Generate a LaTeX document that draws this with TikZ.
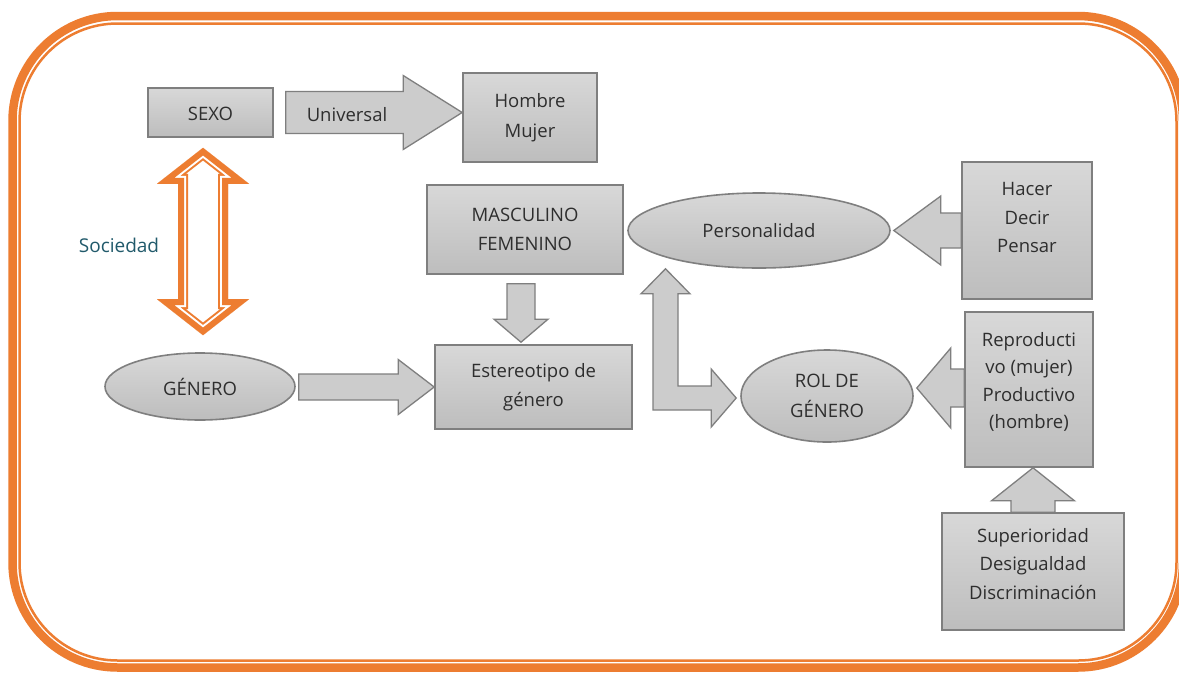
\documentclass[tikz,border=0pt]{standalone}
\usepackage{fontspec}
\setmainfont{Open Sans}
\usetikzlibrary{calc,shapes.geometric}
\definecolor{orng}{HTML}{ED7D31}
\definecolor{boxline}{HTML}{7F7F7F}
\definecolor{txt}{HTML}{2E2E2E}
\definecolor{boxtop}{HTML}{D8D8D8}
\definecolor{boxbot}{HTML}{BDBDBD}
\definecolor{arrfill}{HTML}{CCCCCC}
\definecolor{socteal}{HTML}{215A6B}
\newcommand\rarr[5]{\filldraw[blockarr] let \p1=#1, \p2=#2 in (\x1,\y2+#3pt) -- (\x2-#5pt,\y2+#3pt) -- (\x2-#5pt,\y2+#4pt) -- (\x2,\y2) -- (\x2-#5pt,\y2-#4pt) -- (\x2-#5pt,\y2-#3pt) -- (\x1,\y2-#3pt) -- cycle;}
\newcommand\larr[5]{\filldraw[blockarr] let \p1=#1, \p2=#2 in (\x1,\y2+#3pt) -- (\x2+#5pt,\y2+#3pt) -- (\x2+#5pt,\y2+#4pt) -- (\x2,\y2) -- (\x2+#5pt,\y2-#4pt) -- (\x2+#5pt,\y2-#3pt) -- (\x1,\y2-#3pt) -- cycle;}
\newcommand\uarr[5]{\filldraw[blockarr] let \p1=#1, \p2=#2 in (\x2+#3pt,\y1) -- (\x2+#3pt,\y2-#5pt) -- (\x2+#4pt,\y2-#5pt) -- (\x2,\y2) -- (\x2-#4pt,\y2-#5pt) -- (\x2-#3pt,\y2-#5pt) -- (\x2-#3pt,\y1) -- cycle;}
\newcommand\darr[5]{\filldraw[blockarr] let \p1=#1, \p2=#2 in (\x2+#3pt,\y1) -- (\x2+#3pt,\y2+#5pt) -- (\x2+#4pt,\y2+#5pt) -- (\x2,\y2) -- (\x2-#4pt,\y2+#5pt) -- (\x2-#3pt,\y2+#5pt) -- (\x2-#3pt,\y1) -- cycle;}
\tikzset{
  txtstyle/.style={font=\fontsize{18.5}{29.5}\selectfont, text=txt, align=center},
  gbox/.style={txtstyle, draw=boxline, line width=1.6pt, top color=boxtop, bottom color=boxbot, rectangle, inner sep=0pt},
  gell/.style={gbox, ellipse},
  blockarr/.style={draw=boxline, line width=1.3pt, fill=arrfill, line join=miter},
}
\begin{document}
\begin{tikzpicture}[x=1pt,y=-1pt]
\useasboundingbox (0,0) rectangle (1179,673);
\fill[white] (0,0) rectangle (1179,673);
% frame
\draw[orng, line width=8.5pt, rounded corners=105pt] (12.5,16) rectangle (1183,667.5);
\draw[orng, line width=2.5pt, rounded corners=98pt] (19.5,23.5) rectangle (1176.5,660.5);

% nodes
\node[gbox, minimum width=125pt, minimum height=49pt, text height=16pt] (sexo) at (210.5,112.5) {SEXO};
\node[gbox, minimum width=134pt, minimum height=89pt] (hm) at (530,117.5) {Hombre\\Mujer};
\node[gbox, minimum width=196pt, minimum height=89pt] (masc) at (525,229.5) {MASCULINO\\FEMENINO};
\node[gbox, minimum width=197pt, minimum height=84pt] (ester) at (533.5,387) {Estereotipo de\\género};
\node[gell, minimum width=190pt, minimum height=67pt] (genero) at (200,386.5) {GÉNERO};
\node[gell, minimum width=262pt, minimum height=75pt] (pers) at (759,230.5) {Personalidad};
\node[gbox, minimum width=130pt, minimum height=137pt, text depth=26pt, font=\fontsize{18.5}{28.5}\selectfont] (hacer) at (1027,230.5) {Hacer\\Decir\\Pensar};
\node[gell, minimum width=172pt, minimum height=92pt] (rol) at (827,396) {ROL DE\\GÉNERO};
\node[gbox, minimum width=128pt, minimum height=155pt, text depth=18pt, font=\fontsize{18.5}{27.5}\selectfont] (repro) at (1029,389.5) {Reproducti\\vo (mujer)\\Productivo\\(hombre)};
\node[gbox, minimum width=182pt, minimum height=117pt, text depth=16pt, font=\fontsize{18.5}{28.5}\selectfont] (sup) at (1033,571.5) {Superioridad\\Desigualdad\\Discriminación};

% block arrows
\rarr{($(sexo.east)+(12,0)$)}{(hm.west |- sexo.east)}{21}{37}{59}
\node[txtstyle] (univ) at (347,115) {Universal};
\rarr{($(genero.east)+(3,0)$)}{(ester.west)}{13}{27.5}{36}
\darr{($(masc.south)+(-4,9)$)}{($(ester.north)+(-12.5,-2)$)}{14}{27}{23}
\larr{(hacer.west)}{($(pers.east)+(3,0)$)}{17.5}{34.5}{47}
\larr{(repro.west)}{($(rol.east)+(3,-8)$)}{19}{40}{34}
\uarr{(sup.north)}{(sup.north |- repro.south)}{22}{41.5}{33}

% bent double arrow
\coordinate (bt) at ($(pers.south)+(-93.5,0)$);
\coordinate (br) at ($(rol.west)+(-4,2)$);
\filldraw[blockarr] let \p1=(bt), \p2=(br) in
  (\x1-12.5pt,\y2-12pt) -- (\x1-12.5pt,\y1-25pt) -- (\x1-24.5pt,\y1-25pt) -- (\x1,\y1)
  -- (\x1+24.5pt,\y1-25pt) -- (\x1+12.5pt,\y1-25pt) -- (\x1+12.5pt,\y2+12pt)
  -- (\x2-25pt,\y2+12pt) -- (\x2-25pt,\y2+29pt) -- (\x2,\y2) -- (\x2-25pt,\y2-29pt)
  -- (\x2-25pt,\y2-12pt) -- cycle;

% orange double arrow
\coordinate (dt) at ($(sexo.south)+(-7.5,10)$);
\coordinate (db) at ($(genero.north)+(3,-17)$);
\def\dblpath{(dt) -- ($(dt)+(46,36)$) -- ($(dt)+(25,36)$) -- ($(db)+(25,-36)$) -- ($(db)+(46,-36)$) -- (db) -- ($(db)+(-46,-36)$) -- ($(db)+(-25,-36)$) -- ($(dt)+(-25,36)$) -- ($(dt)+(-46,36)$) -- cycle}
\begin{scope}
  \clip \dblpath;
  \fill[white] \dblpath;
  \draw[orng, line width=20pt, line join=miter] \dblpath;
  \draw[white, line width=16pt, line join=miter] \dblpath;
  \draw[orng, line width=12pt, line join=miter] \dblpath;
\end{scope}
\node[font=\fontsize{19}{29}\selectfont, text=socteal] (soc) at (119,245) {Sociedad};
\end{tikzpicture}
\end{document}
